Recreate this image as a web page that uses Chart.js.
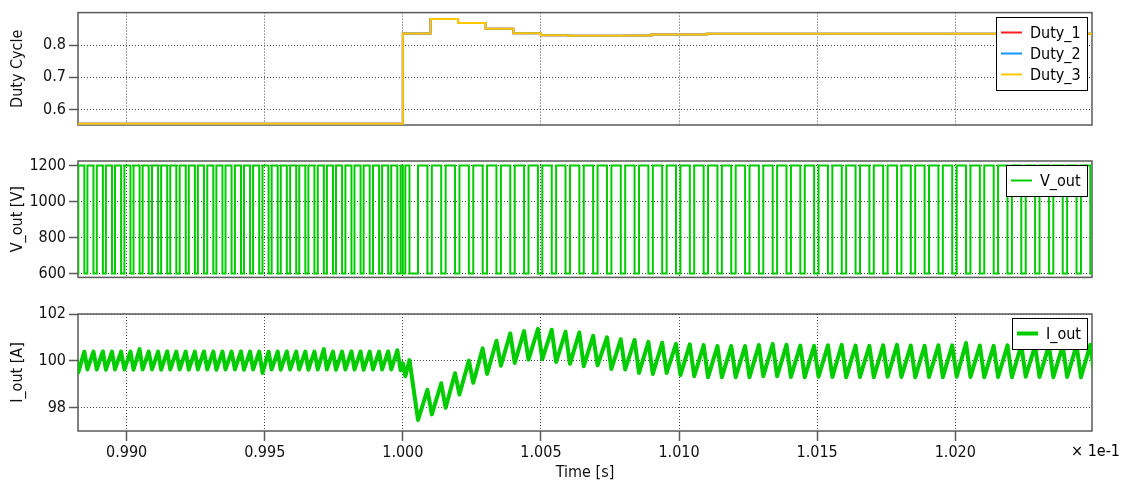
<!DOCTYPE html>
<html>
  <head>
    <meta charset="UTF-8" />
    <title>Duty Cycle / V_out / I_out</title>
    <style>
      body { margin: 0; background: #fff; }
      #wrap { position: relative; width: 1128px; height: 484px; }
      canvas { position: absolute; left: 0; }
    </style>
  </head>
  <body>
    <div id="wrap">
      <canvas id="duty" width="1128" height="140" style="top:0px"></canvas>
      <canvas id="vout" width="1128" height="145" style="top:145px"></canvas>
      <canvas id="iout" width="1128" height="194" style="top:290px"></canvas>
    </div>
    <script src="https://cdn.jsdelivr.net/npm/chart.js"></script>
    <script>
      // time is shown in units of 1e-1 s (axis note "× 1e-1")
      const xMin = 0.98824, xMax = 1.02495;
      const xTicks = [0.990, 0.995, 1.000, 1.005, 1.010, 1.015, 1.020];

      // duty cycle steps (all three phases sit on top of each other)
      const dutyTime = [0.9880, 1.000, 1.001, 1.002, 1.003, 1.004, 1.005, 1.006, 1.008, 1.009, 1.011, 1.026];
      const duty1 = [0.556, 0.836, 0.881, 0.869, 0.851, 0.837, 0.831, 0.829, 0.830, 0.833, 0.835, 0.835];
      const duty2 = [0.556, 0.836, 0.881, 0.869, 0.851, 0.837, 0.831, 0.829, 0.830, 0.833, 0.835, 0.835];
      const duty3 = [0.556, 0.836, 0.881, 0.869, 0.851, 0.837, 0.831, 0.829, 0.830, 0.833, 0.835, 0.835];
      const dutyTicks = [0.6, 0.7, 0.8];

      // switching instants: current troughs / peaks = output voltage edges
      const swTime = [
        0.98814,
        0.98825, 0.98847, 0.98858, 0.98880, 0.98892, 0.98914, 0.98925, 0.98947, 0.98958, 0.98980,
        0.98992, 0.99014, 0.99025, 0.99047, 0.99058, 0.99080, 0.99092, 0.99114, 0.99125, 0.99147,
        0.99158, 0.99180, 0.99192, 0.99214, 0.99225, 0.99247, 0.99258, 0.99280, 0.99292, 0.99314,
        0.99325, 0.99347, 0.99358, 0.99380, 0.99392, 0.99414, 0.99425, 0.99447, 0.99458, 0.99480,
        0.99492, 0.99514, 0.99525, 0.99547, 0.99558, 0.99580, 0.99592, 0.99614, 0.99625, 0.99647,
        0.99658, 0.99680, 0.99692, 0.99714, 0.99725, 0.99747, 0.99758, 0.99780, 0.99792, 0.99814,
        0.99825, 0.99847, 0.99858, 0.99880, 0.99892, 0.99914, 0.99925, 0.99947, 0.99958, 0.99980,
        0.99992, 1.00000, 1.00009, 1.00024,
        1.00055, 1.00089, 1.00105, 1.00139, 1.00155, 1.00189, 1.00205, 1.00239, 1.00255, 1.00289,
        1.00305, 1.00339, 1.00355, 1.00389, 1.00405, 1.00439, 1.00455, 1.00489, 1.00505, 1.00539,
        1.00555, 1.00589, 1.00605, 1.00639, 1.00655, 1.00689, 1.00705, 1.00739, 1.00755, 1.00789,
        1.00805, 1.00839, 1.00855, 1.00889, 1.00905, 1.00939, 1.00955, 1.00989, 1.01005, 1.01039,
        1.01055, 1.01089, 1.01105, 1.01139, 1.01155, 1.01189, 1.01205, 1.01239, 1.01255, 1.01289,
        1.01305, 1.01339, 1.01355, 1.01389, 1.01405, 1.01439, 1.01455, 1.01489, 1.01505, 1.01539,
        1.01555, 1.01589, 1.01605, 1.01639, 1.01655, 1.01689, 1.01705, 1.01739, 1.01755, 1.01789,
        1.01805, 1.01839, 1.01855, 1.01889, 1.01905, 1.01939, 1.01955, 1.01989, 1.02005, 1.02039,
        1.02055, 1.02089, 1.02105, 1.02139, 1.02155, 1.02189, 1.02205, 1.02239, 1.02255, 1.02289,
        1.02305, 1.02339, 1.02355, 1.02389, 1.02405, 1.02439, 1.02455, 1.02489, 1.02505
      ];

      // V_out level from each switching instant on
      const vOut = [
        600,
        1200, 600, 1200, 600, 1200, 600, 1200, 600, 1200, 600,
        1200, 600, 1200, 600, 1200, 600, 1200, 600, 1200, 600,
        1200, 600, 1200, 600, 1200, 600, 1200, 600, 1200, 600,
        1200, 600, 1200, 600, 1200, 600, 1200, 600, 1200, 600,
        1200, 600, 1200, 600, 1200, 600, 1200, 600, 1200, 600,
        1200, 600, 1200, 600, 1200, 600, 1200, 600, 1200, 600,
        1200, 600, 1200, 600, 1200, 600, 1200, 600, 1200, 600,
        1200, 600, 1200, 600,
        1200, 600, 1200, 600, 1200, 600, 1200, 600, 1200, 600,
        1200, 600, 1200, 600, 1200, 600, 1200, 600, 1200, 600,
        1200, 600, 1200, 600, 1200, 600, 1200, 600, 1200, 600,
        1200, 600, 1200, 600, 1200, 600, 1200, 600, 1200, 600,
        1200, 600, 1200, 600, 1200, 600, 1200, 600, 1200, 600,
        1200, 600, 1200, 600, 1200, 600, 1200, 600, 1200, 600,
        1200, 600, 1200, 600, 1200, 600, 1200, 600, 1200, 600,
        1200, 600, 1200, 600, 1200, 600, 1200, 600, 1200, 600,
        1200, 600, 1200, 600, 1200, 600, 1200, 600, 1200, 600,
        1200, 600, 1200, 600, 1200, 600, 1200, 600, 1200
      ];
      const voutTicks = [600, 800, 1000, 1200];

      // I_out at the same instants (troughs and peaks of the ripple)
      const iOut = [
        100.39,
        99.50, 100.39, 99.63, 100.39, 99.63, 100.40, 99.62, 100.39, 99.63, 100.39,
        99.63, 100.39, 99.62, 100.50, 99.63, 100.39, 99.63, 100.39, 99.62, 100.40,
        99.63, 100.39, 99.63, 100.39, 99.62, 100.39, 99.63, 100.40, 99.63, 100.39,
        99.62, 100.39, 99.63, 100.39, 99.63, 100.40, 99.62, 100.39, 99.63, 100.39,
        99.48, 100.39, 99.63, 100.39, 99.62, 100.40, 99.63, 100.39, 99.63, 100.39,
        99.62, 100.39, 99.63, 100.50, 99.63, 100.39, 99.62, 100.39, 99.63, 100.40,
        99.63, 100.39, 99.62, 100.39, 99.63, 100.39, 99.63, 100.40, 99.63, 100.45,
        99.60, 99.90, 99.34, 100.03,
        97.47, 98.76, 97.71, 99.04, 97.99, 99.47, 98.56, 100.01, 99.06, 100.53,
        99.44, 100.86, 99.79, 101.17, 99.91, 101.27, 100.05, 101.36, 100.07, 101.33,
        99.95, 101.24, 99.87, 101.21, 99.77, 101.07, 99.81, 101.00, 99.65, 100.92,
        99.63, 100.89, 99.48, 100.81, 99.44, 100.77, 99.48, 100.72, 99.39, 100.70,
        99.34, 100.67, 99.30, 100.63, 99.30, 100.63, 99.30, 100.63, 99.30, 100.67,
        99.34, 100.72, 99.34, 100.68, 99.31, 100.65, 99.30, 100.64, 99.32, 100.66,
        99.31, 100.68, 99.30, 100.65, 99.31, 100.64, 99.30, 100.66, 99.32, 100.68,
        99.31, 100.65, 99.30, 100.64, 99.31, 100.66, 99.30, 100.66, 99.32, 100.76,
        99.31, 100.65, 99.30, 100.64, 99.31, 100.66, 99.30, 100.67, 99.32, 100.65,
        99.31, 100.66, 99.30, 100.64, 99.31, 100.66, 99.30, 100.68,
        99.30
      ];
      const ioutTicks = [98, 100, 102];

      const FONT = 'DejaVu Sans Condensed';
      const frameColor = '#5a5a5a';
      const gridColor = '#4a4a4a';
      const green = 'rgb(0, 204, 0)';

      const pts = (xs, ys) => xs.map((x, i) => ({ x: x, y: ys[i] }));

      // plot frame, in-plot legend box and the axis multiplier note
      const decor = {
        id: 'decor',
        beforeDatasetsDraw(chart) {
          const { ctx, chartArea: a } = chart;
          ctx.save();
          ctx.strokeStyle = frameColor;
          ctx.lineWidth = 1.5;
          ctx.strokeRect(a.left, a.top, a.right - a.left, a.bottom - a.top);
          ctx.restore();
        },
        afterDraw(chart) {
          const { ctx, chartArea: a } = chart;
          const items = chart.data.datasets;
          ctx.save();
          ctx.font = '16px "' + FONT + '"';
          const tw = Math.max(...items.map(d => ctx.measureText(d.label).width));
          const w = Math.round(34 + tw + 6), h = items.length * 21 + 10;
          const x0 = Math.round(a.right - 5 - w), y0 = Math.round(a.top + 4);
          ctx.fillStyle = '#fff';
          ctx.fillRect(x0, y0, w, h);
          ctx.strokeStyle = '#000';
          ctx.lineWidth = 1;
          ctx.strokeRect(x0 + 0.5, y0 + 0.5, w, h);
          items.forEach((d, i) => {
            const cy = y0 + 5 + 10.5 + i * 21;
            ctx.strokeStyle = d.borderColor;
            ctx.lineWidth = d.legendWidth || d.borderWidth;
            ctx.beginPath();
            ctx.moveTo(x0 + 5, cy);
            ctx.lineTo(x0 + 26, cy);
            ctx.stroke();
            ctx.fillStyle = '#000';
            ctx.textBaseline = 'middle';
            ctx.fillText(d.label, x0 + 34, cy + 1);
          });
          if (chart.canvas.id === 'iout') {
            ctx.font = '16px "' + FONT + '"';
            ctx.textAlign = 'right';
            ctx.fillText('× 1e-1', 1120, a.bottom + 21);
          }
          ctx.restore();
        }
      };

      function makeChart(id, datasets, o) {
        return new Chart(document.getElementById(id), {
          type: 'line',
          data: { datasets: datasets },
          options: {
            responsive: false,
            animation: false,
            events: [],
            layout: { padding: { top: o.padTop, right: 36, left: 0, bottom: 0 } },
            elements: { point: { radius: 0 }, line: { tension: 0 } },
            scales: {
              x: {
                type: 'linear',
                min: xMin,
                max: xMax,
                afterBuildTicks: s => { s.ticks = xTicks.map(v => ({ value: v })); },
                afterFit: s => { s.height = o.xHeight; },
                grid: {
                  color: gridColor, lineWidth: 1,
                  drawTicks: o.last, tickLength: 10,
                  tickColor: frameColor, tickWidth: 1.5, tickBorderDash: []
                },
                border: { display: false, dash: [1, 2] },
                ticks: {
                  display: o.last, padding: 2, color: '#111',
                  font: { family: FONT, size: 16 },
                  callback: v => v.toFixed(3)
                },
                title: {
                  display: o.last, text: 'Time [s]', color: '#111',
                  font: { family: FONT, size: 16 },
                  padding: { top: 0, bottom: 2 }
                }
              },
              y: {
                min: o.yMin,
                max: o.yMax,
                afterBuildTicks: s => { s.ticks = o.yTicks.map(v => ({ value: v })); },
                afterFit: s => { s.width = 78; },
                grid: {
                  color: gridColor, lineWidth: 1,
                  tickLength: 9, tickColor: frameColor, tickWidth: 1.5, tickBorderDash: []
                },
                border: { display: false, dash: [1, 2] },
                ticks: {
                  padding: 3, color: '#111',
                  font: { family: FONT, size: 16 },
                  callback: o.fmt
                },
                title: {
                  display: true, text: o.yTitle, color: '#111',
                  font: { family: FONT, size: 16 },
                  padding: { top: 8, bottom: 0 }
                }
              }
            },
            plugins: { legend: { display: false }, tooltip: { enabled: false } }
          },
          plugins: [decor]
        });
      }

      makeChart('duty', [
        { label: 'Duty_1', data: pts(dutyTime, duty1), borderColor: 'rgb(255, 30, 30)', borderWidth: 2, stepped: true, order: 3 },
        { label: 'Duty_2', data: pts(dutyTime, duty2), borderColor: 'rgb(20, 150, 255)', borderWidth: 2, stepped: true, order: 2 },
        { label: 'Duty_3', data: pts(dutyTime, duty3), borderColor: 'rgb(255, 200, 0)', borderWidth: 2, stepped: true, order: 1 }
      ], { padTop: 8, xHeight: 15, last: false, yMin: 0.552, yMax: 0.901, yTicks: dutyTicks,
           yTitle: 'Duty Cycle', fmt: v => v.toFixed(1) });

      makeChart('vout', [
        { label: 'V_out', data: pts(swTime, vOut), borderColor: green, borderWidth: 2, stepped: true }
      ], { padTop: 16, xHeight: 12, last: false, yMin: 578, yMax: 1225, yTicks: voutTicks,
           yTitle: 'V_out [V]', fmt: v => String(v) });

      makeChart('iout', [
        { label: 'I_out', data: pts(swTime, iOut), borderColor: green, borderWidth: 4, borderJoinStyle: 'round', legendWidth: 4 }
      ], { padTop: 24, xHeight: 53, last: true, yMin: 97, yMax: 102, yTicks: ioutTicks,
           yTitle: 'I_out [A]', fmt: v => String(v) });
    </script>
  </body>
</html>
